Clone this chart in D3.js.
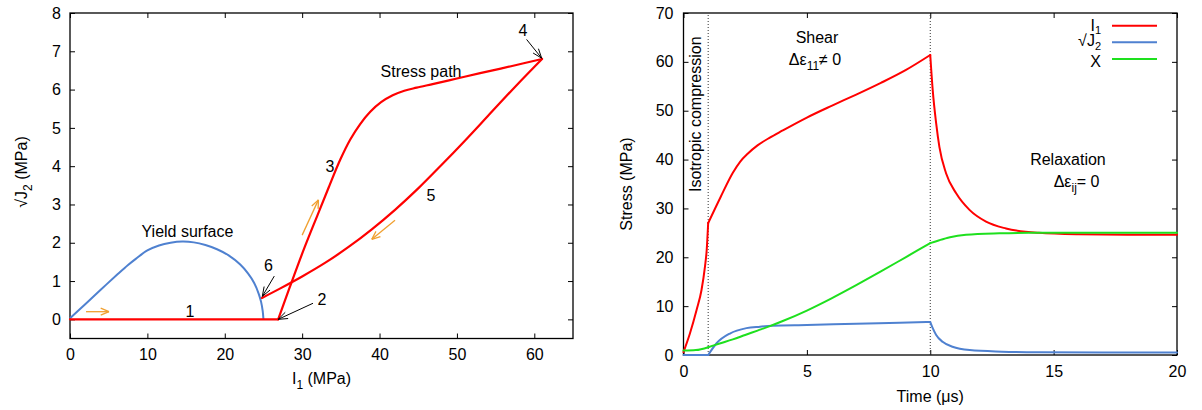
<!DOCTYPE html>
<html>
<head>
<meta charset="utf-8">
<script src="https://cdn.jsdelivr.net/npm/d3@7"></script>
<style>
body { margin: 0; background: #fff; }
svg text { font-family: "Liberation Sans", Arial, sans-serif; font-size: 16px; fill: #000; }
</style>
</head>
<body>
<svg id="chart" width="1202" height="410"></svg>
<script>
// ---- left panel data: I1 (MPa) vs sqrt(J2) (MPa)
const yieldSurface = [[0,0.03],[2,0.4],[4,0.78],[6,1.15],[7.5,1.42],[8.5,1.58],[10,1.8],[11.5,1.93],[13,2.0],[14.5,2.03],
  [16,2.01],[17.5,1.94],[19,1.83],[20.5,1.67],[22,1.43],[23,1.2],[23.8,0.95],[24.4,0.66],[24.7,0.45],[24.9,0.22],[25,0]];
const loadPath = [[0,0],[26.9,0]];
const shearPath = [[26.9,0],[28.4,0.84],[30.2,1.82],[32,2.73],[33.5,3.48],[34.9,4.16],[36.2,4.69],[37.5,5.1],[38.8,5.42],
  [40.2,5.67],[41.7,5.85],[43.2,5.97],[44.8,6.05],[47,6.15],[50,6.29],[53,6.43],[57,6.61],[61,6.8]];
const unloadPath = [[61,6.8],[57.5,6.07],[54,5.31],[51,4.66],[48,4.03],[45,3.42],[42,2.86],[39,2.35],[36,1.89],
  [33,1.48],[30,1.12],[27,0.79],[24.8,0.56]];
const xTicksL = [0,10,20,30,40,50,60];
const yTicksL = [0,1,2,3,4,5,6,7,8];
const labelsL = [
  {t:"Yield surface", p:[15.18,2.16]}, {t:"Stress path", p:[45.36,6.34]},
  {t:"1", p:[15.5,0.06]}, {t:"2", p:[32.57,0.37]}, {t:"3", p:[33.6,3.86]},
  {t:"4", p:[58.54,7.40]}, {t:"5", p:[46.65,3.08]}, {t:"6", p:[25.65,1.25]}
];
const blackArrows = [[[59.0,7.31],[60.95,6.82]], [[26.4,1.13],[24.85,0.6]], [[31.4,0.42],[26.9,0]]];
const orangeArrows = [[[2.07,0.2],[5.04,0.2]], [[30.0,2.2],[32.1,3.12]], [[42.0,2.59],[39.0,2.09]]];

// ---- right panel data: stress (MPa) vs time (us)
const i1Series = [[0,0.6],[0.26,4.4],[0.53,9.2],[0.73,13.3],[0.87,18.1],[0.94,21.5],[1.0,27.0],
  [1.5,32.3],[2.0,37.3],[2.3,39.6],[2.6,41.2],[3.0,42.9],[3.5,44.5],[4.0,45.9],[5.0,48.6],[6.0,51.0],[7.0,53.3],
  [8.0,55.7],[9.0,58.3],[10,61.4],
  [10.1,54.2],[10.24,47.4],[10.37,42.6],[10.64,37.2],[11.05,33.1],[11.59,29.7],[12.26,27.3],[13.07,25.9],
  [14.4,25.0],[16,24.7],[18,24.6],[20,24.6]];
const j2Series = [[0,0],[1.0,0],[1.34,2.4],[1.88,4.4],[2.55,5.5],[3.1,5.8],[3.6,6.0],[5,6.15],[7,6.4],[8.76,6.6],
  [10,6.75],[10.1,5.5],[10.24,4.1],[10.5,2.7],[10.9,1.7],[11.6,1.0],[12.9,0.68],[14.4,0.55],[17,0.5],[20,0.5]];
const xSeries = [[0,0.9],[0.5,1.0],[1.0,1.6],[1.5,2.4],[2.0,3.2],[2.5,4.1],[3.0,5.0],[3.5,5.9],[4.0,6.9],[5.0,9.1],
  [6.0,11.6],[7.0,14.3],[8.0,17.1],[9.0,20.0],[10,22.9],
  [10.37,23.5],[10.8,24.1],[11.45,24.6],[12.8,24.9],[14,25.0],[17,25.0],[20,25.0]];
const phaseLines = [1, 10];
const xTicksR = [0,5,10,15,20];
const yTicksR = [0,10,20,30,40,50,60,70];

const RED = "#ff0000", BLUE = "#4f81d0", GREEN = "#1ee01e", ORANGE = "#f0a030";

const svg = d3.select("#chart");

function frame(g, x, y, xt, yt, pad) {
  g.append("g").attr("transform", `translate(0,${y.range()[0]})`)
    .call(d3.axisBottom(x).tickValues(xt).tickSize(-5).tickPadding(pad))
    .call(a => a.select(".domain").remove());
  g.append("g").attr("transform", `translate(0,${y.range()[1]})`)
    .call(d3.axisTop(x).tickValues(xt).tickSize(-5).tickFormat(""))
    .call(a => a.select(".domain").remove());
  g.append("g").attr("transform", `translate(${x.range()[0]},0)`)
    .call(d3.axisLeft(y).tickValues(yt).tickSize(-5).tickPadding(pad - 1))
    .call(a => a.select(".domain").remove());
  g.append("g").attr("transform", `translate(${x.range()[1]},0)`)
    .call(d3.axisRight(y).tickValues(yt).tickSize(-5).tickFormat(""))
    .call(a => a.select(".domain").remove());
  g.selectAll(".tick line").attr("stroke", "#000");
  g.append("rect")
    .attr("x", x.range()[0]).attr("y", y.range()[1])
    .attr("width", x.range()[1] - x.range()[0])
    .attr("height", y.range()[0] - y.range()[1])
    .attr("fill", "none").attr("stroke", "#000").attr("stroke-width", 1.3);
}

function arrow(g, p0, p1, color, len, ang, w) {
  const a = Math.atan2(p1[1] - p0[1], p1[0] - p0[0]);
  g.append("line").attr("x1", p0[0]).attr("y1", p0[1]).attr("x2", p1[0]).attr("y2", p1[1])
    .attr("stroke", color).attr("stroke-width", w);
  [-1, 1].forEach(s => {
    g.append("line").attr("x1", p1[0]).attr("y1", p1[1])
      .attr("x2", p1[0] - len * Math.cos(a + s * ang))
      .attr("y2", p1[1] - len * Math.sin(a + s * ang))
      .attr("stroke", color).attr("stroke-width", w);
  });
}

// ================= left panel
const xL = d3.scaleLinear([0, 65], [70, 573]);
const yL = d3.scaleLinear([-0.5, 8], [338.5, 13]);
const gL = svg.append("g");
frame(gL, xL, yL, xTicksL, yTicksL, 10);

const lineL = d3.line().x(d => xL(d[0])).y(d => yL(d[1])).curve(d3.curveCatmullRom.alpha(0.5));
gL.append("path").datum(yieldSurface).attr("d", lineL)
  .attr("fill", "none").attr("stroke", BLUE).attr("stroke-width", 2);
[loadPath, shearPath, unloadPath].forEach(p => {
  gL.append("path").datum(p).attr("d", lineL)
    .attr("fill", "none").attr("stroke", RED).attr("stroke-width", 2.2)
    .attr("stroke-linejoin", "round").attr("stroke-linecap", "round");
});

blackArrows.forEach(a => arrow(gL, [xL(a[0][0]), yL(a[0][1])], [xL(a[1][0]), yL(a[1][1])], "#000", 10, 0.35, 1));
orangeArrows.forEach(a => arrow(gL, [xL(a[0][0]), yL(a[0][1])], [xL(a[1][0]), yL(a[1][1])], ORANGE, 9, 0.4, 1.3));

labelsL.forEach(l => {
  gL.append("text").attr("x", xL(l.p[0])).attr("y", yL(l.p[1]))
    .attr("text-anchor", "middle").text(l.t);
});

// axis titles
const tI1 = gL.append("text").attr("x", (xL.range()[0] + xL.range()[1]) / 2).attr("y", 383.5)
  .attr("text-anchor", "middle");
tI1.append("tspan").text("I");
tI1.append("tspan").attr("dy", 5).attr("font-size", 12).text("1");
tI1.append("tspan").attr("dy", -5).text(" (MPa)");

const tJ2 = gL.append("text").attr("transform", "translate(27,172) rotate(-90)")
  .attr("text-anchor", "middle");
tJ2.append("tspan").text("√J");
tJ2.append("tspan").attr("dy", 5).attr("font-size", 12).text("2");
tJ2.append("tspan").attr("dy", -5).text(" (MPa)");

// ================= right panel
const xR = d3.scaleLinear([0, 20], [683.5, 1177]);
const yR = d3.scaleLinear([0, 70], [355, 13]);
const gR = svg.append("g");
frame(gR, xR, yR, xTicksR, yTicksR, 11);

phaseLines.forEach(t => {
  gR.append("line").attr("x1", xR(t)).attr("x2", xR(t)).attr("y1", yR(0)).attr("y2", yR(70))
    .attr("stroke", "#333").attr("stroke-width", 1).attr("stroke-dasharray", "1,2");
});

const lineR = d3.line().x(d => xR(d[0])).y(d => yR(d[1])).curve(d3.curveMonotoneX);
const seriesR = [
  {data: i1Series, color: RED, name: ["I", "1"]},
  {data: j2Series, color: BLUE, name: ["√J", "2"]},
  {data: xSeries, color: GREEN, name: ["X", ""]}
];
// each loading phase is drawn as its own smooth piece so the kinks at the phase changes stay sharp
const bounds = [xR.domain()[0], ...phaseLines, xR.domain()[1]];
seriesR.forEach(s => {
  for (let k = 0; k < bounds.length - 1; k++) {
    const piece = s.data.filter(d => d[0] >= bounds[k] && d[0] <= bounds[k + 1]);
    gR.append("path").datum(piece).attr("d", lineR)
      .attr("fill", "none").attr("stroke", s.color).attr("stroke-width", 2)
      .attr("stroke-linejoin", "round").attr("stroke-linecap", "round");
  }
});

// legend
const legendY = [25.7, 42.3, 59];
const legendBase = [30.5, 46, 66.5];
seriesR.forEach((s, i) => {
  gR.append("line").attr("x1", 1112).attr("x2", 1157).attr("y1", legendY[i]).attr("y2", legendY[i])
    .attr("stroke", s.color).attr("stroke-width", 2);
  const t = gR.append("text").attr("x", 1101).attr("y", legendBase[i]).attr("text-anchor", "end");
  t.append("tspan").text(s.name[0]);
  if (s.name[1]) t.append("tspan").attr("dy", 3.5).attr("font-size", 11).text(s.name[1]);
});

// annotations
gR.append("text").attr("x", xR(5.41)).attr("y", yR(63.86)).attr("text-anchor", "middle").text("Shear");
const d11 = gR.append("text").attr("x", xR(5.33)).attr("y", yR(59.36)).attr("text-anchor", "middle");
d11.append("tspan").text("Δε");
d11.append("tspan").attr("dy", 5).attr("font-size", 12).text("11");
d11.append("tspan").attr("dy", -5).text("≠ 0");
gR.append("text").attr("x", xR(15.58)).attr("y", yR(38.89)).attr("text-anchor", "middle").text("Relaxation");
const dij = gR.append("text").attr("x", xR(15.93)).attr("y", yR(34.39)).attr("text-anchor", "middle");
dij.append("tspan").text("Δε");
dij.append("tspan").attr("dy", 5).attr("font-size", 12).text("ij");
dij.append("tspan").attr("dy", -5).text("= 0");
gR.append("text").attr("transform", `translate(${xR(0.69)},${yR(33.36)}) rotate(-90)`)
  .text("Isotropic compression");

gR.append("text").attr("x", (xR.range()[0] + xR.range()[1]) / 2).attr("y", 401.5)
  .attr("text-anchor", "middle").text("Time (μs)");
gR.append("text").attr("transform", "translate(632,184) rotate(-90)")
  .attr("text-anchor", "middle").text("Stress (MPa)");
</script>
</body>
</html>
